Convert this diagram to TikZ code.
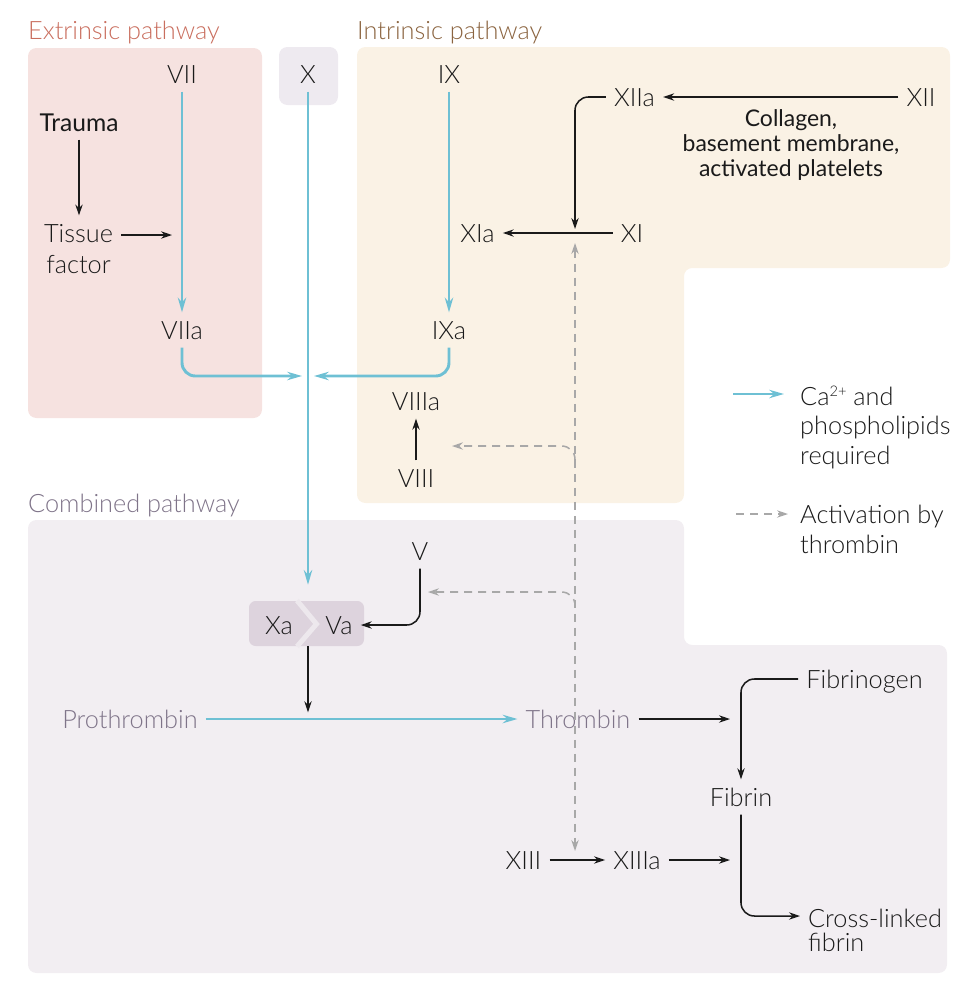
\documentclass[tikz,border=0pt]{standalone}
\usepackage{fontspec}
\IfFontExistsTF{Lato Light}{\setmainfont{Lato Light}[BoldFont=Lato]}{\setmainfont{Lato}}
\usetikzlibrary{arrows.meta}
\definecolor{extfill}{HTML}{F6E2E0}
\definecolor{intfill}{HTML}{FAF2E5}
\definecolor{combfill}{HTML}{F2EEF2}
\definecolor{xfill}{HTML}{EEEAF0}
\definecolor{chevfill}{HTML}{DDD3DD}
\definecolor{chevgap}{HTML}{EDE8ED}
\definecolor{exttitle}{HTML}{C96E5E}
\definecolor{inttitle}{HTML}{8B6440}
\definecolor{combtitle}{HTML}{7F7489}
\definecolor{caBlue}{HTML}{6EC0D4}
\definecolor{dashgrey}{HTML}{A8A8A8}
\definecolor{txt}{HTML}{1A1A1A}
\newcommand\fsz{\fontsize{21.6}{26}\selectfont}
\tikzset{
  bTip/.tip={Stealth[length=0.33cm,width=0.22cm]},
  cTip/.tip={Stealth[length=0.44cm,width=0.25cm]},
  dTip/.tip={Stealth[length=0.33cm,width=0.22cm]},
}
\begin{document}
\begin{tikzpicture}[x=0.03cm,y=-0.03cm,
  lab/.style={inner xsep=0.24cm,inner ysep=0.25cm,text height=0.545cm,text depth=0cm,font=\fsz,text=txt},
  mlab/.style={inner sep=0cm,text=txt},
  ttl/.style={inner sep=0cm,anchor=base west,font=\fsz},
  blk/.style={draw=txt,line width=1.3pt,arrows={-bTip}},
  ca/.style={draw=caBlue,line width=2.5pt,arrows={-cTip}},
  thr/.style={draw=dashgrey,line width=1.3pt,dash pattern=on 0.24cm off 0.18cm},
  rc/.style={rounded corners=0.4cm}]
\useasboundingbox (0,0) rectangle (977,1000);
% regions
\fill[extfill,rounded corners=0.25cm] (28,48) rectangle (262,418);
\fill[xfill,rounded corners=0.25cm] (279,47) rectangle (338,105);
\fill[intfill,rounded corners=0.25cm] (357,47) -- (950,47) -- (950,268) -- (684,268) -- (684,503) -- (357,503) -- cycle;
\fill[combfill,rounded corners=0.25cm] (28,520) -- (684,520) -- (684,645) -- (947,645) -- (947,973) -- (28,973) -- cycle;
% titles
\node[ttl,text=exttitle] (tExt) at (28,39) {Extrinsic pathway};
\node[ttl,text=inttitle] (tInt) at (357,39) {Intrinsic pathway};
\node[ttl,text=combtitle] (tComb) at (28,512) {Combined pathway};
% nodes
\node[lab] (VII) at (182,74) {VII};
\node[lab] (X) at (308,74) {X};
\node[lab] (IX) at (449,74) {IX};
\node[lab,font=\fontsize{21}{26}\selectfont\bfseries] (trauma) at (79,122) {Trauma};
\node[mlab,inner sep=0.25cm,align=center,anchor=base,font={\fontsize{21.6}{26.4}\selectfont}] (tissue) at (78.5,273) {Tissue\\factor};
\node[lab] (VIIa) at (182,330) {VIIa};
\node[lab] (IXa) at (449,330) {IXa};
\node[lab] (XIIa) at (634.5,97) {XIIa};
\node[lab] (XII) at (921,97) {XII};
\node[mlab,align=center,anchor=base,font={\fontsize{19.6}{21.3}\selectfont\bfseries}] (collagen) at (791,176.5) {Collagen,\\basement membrane,\\activated platelets};
\node[lab] (XI) at (632,233) {XI};
\node[lab] (XIa) at (477.5,233) {XIa};
\node[lab] (VIIIa) at (416,401) {VIIIa};
\node[lab] (VIII) at (416,478) {VIII};
\node[lab] (V) at (420,551) {V};
\node[fill=chevfill,rounded corners=0.2cm,minimum width=3.45cm,minimum height=1.35cm,inner sep=0] (xava) at (306.5,623.5) {};
\draw[chevgap,line width=0.15cm,line join=miter] (297,600.5) -- (316.5,624) -- (297,646.5);
\node[lab] (Xa) at (279,625) {Xa};
\node[lab] (Va) at (339,625) {Va};
\node[lab,text=combtitle] (proth) at (130,719) {Prothrombin};
\node[lab,text=combtitle] (thromb) at (578,719) {Thrombin};
\node[lab] (fibrinogen) at (864.5,679) {Fibrinogen};
\node[lab] (fibrin) at (741,797) {Fibrin};
\node[mlab,align=left,anchor=base west,font={\fontsize{21.6}{20.4}\selectfont}] (cross) at (808,951) {Cross-linked\\fibrin};
\node[lab] (XIII) at (523.5,860) {XIII};
\node[lab] (XIIIa) at (637,860) {XIIIa};
% extrinsic connectors
\draw[blk] (trauma.south) -- (trauma.south |- tissue.north);
\coordinate (tfa) at (172,235);
\draw[blk] (tfa -| tissue.east) -- (tfa);
\draw[ca] (VII.south) -- (VIIa.north);
\coordinate (jl) at (302,376);
\coordinate (jr) at (314,376);
\draw[ca,rc] (VIIa.south) |- (jl);
\draw[ca,rc] (IXa.south) |- (jr);
\draw[ca] (IX.south) -- (IXa.north);
\draw[ca,shorten >=0.48cm] (X.south) -- (X.south |- xava.north);
% intrinsic connectors
\draw[blk] (XII.west) -- (XIIa.east);
\coordinate (jx) at (575,229);
\draw[blk,rc] (XIIa.west) -| (jx);
\draw[blk] (XI.west) -- (XIa.east);
\draw[blk] (VIII.north) -- (VIIIa.south);
% combined connectors
\draw[blk,rc] (V.south) |- (Va.east);
\draw[blk,shorten >=0.2cm] (xava.south -| X) -- (X |- proth);
\draw[ca] (proth.east) -- (thromb.west);
\coordinate (fin) at (730,719);
\draw[blk] (thromb.east) -- (fin);
\draw[blk,rc] (fibrinogen.west) -| (fibrin.north);
\coordinate (clin) at (800,916);
\draw[blk,rc] (fibrin.south) |- (clin);
\draw[blk] (XIII.east) -- (XIIIa.west);
\coordinate (xin) at (730,860);
\draw[blk] (XIIIa.east) -- (xin);
% thrombin activation (dashed)
\coordinate (dtop) at (575,243);
\coordinate (dbot) at (575,851);
\draw[thr,arrows={dTip-dTip}] (dtop) -- (dbot);
\coordinate (d8s) at (575,461);
\coordinate (d8) at (452,446);
\draw[thr,rc,arrows={-dTip}] (d8s) |- (d8);
\coordinate (d5s) at (575,607);
\coordinate (d5) at (428,592);
\draw[thr,rc,arrows={-dTip}] (d5s) |- (d5);
% legend
\coordinate (lb1) at (733,394);
\coordinate (lb2) at (784,394);
\draw[ca] (lb1) -- (lb2);
\node[mlab,align=left,anchor=base west,font={\fontsize{21.6}{25}\selectfont}] (lgca) at (800,464) {Ca\raisebox{7.5pt}{\fontsize{12.5}{12.5}\selectfont 2+} and\\phospholipids\\required};
\coordinate (ld1) at (736,514);
\coordinate (ld2) at (788,514);
\draw[thr,arrows={-dTip}] (ld1) -- (ld2);
\node[mlab,align=left,anchor=base west,font={\fontsize{21.6}{25.5}\selectfont}] (lgth) at (800,553) {Activation by\\thrombin};
\end{tikzpicture}
\end{document}
